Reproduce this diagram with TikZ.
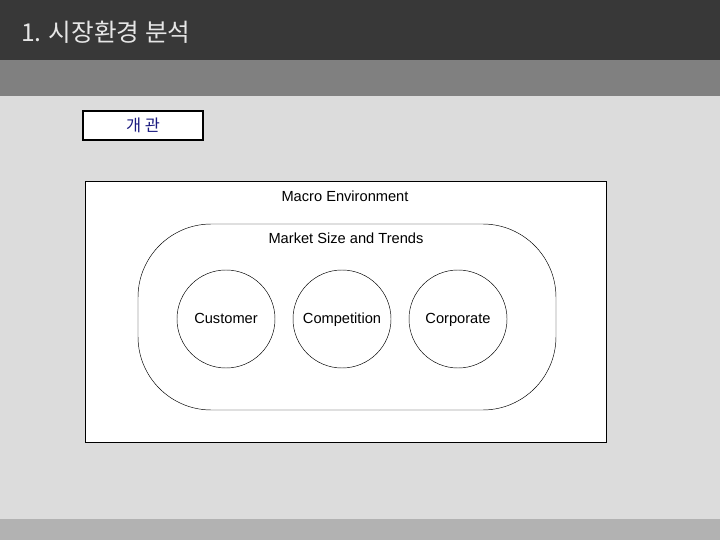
\documentclass[tikz,border=0pt]{standalone}
\usepackage{fontspec}
\setmainfont{Liberation Sans}
\newfontfamily\cjk{Noto Sans CJK KR}
\usetikzlibrary{arrows}
\definecolor{topbar}{HTML}{383838}
\definecolor{midbar}{HTML}{808080}
\definecolor{bglight}{HTML}{DCDCDC}
\definecolor{botbar}{HTML}{B2B2B2}
\definecolor{titlefg}{HTML}{E6E6E6}
\definecolor{tabfg}{HTML}{1A1A80}

\begin{document}
\begin{tikzpicture}[x=0.03cm,y=-0.03cm,thin,node distance=3.48cm,
                    main node/.style={circle,draw,minimum size=2.94cm,inner sep=0pt,
                                      text height=9pt,text depth=2pt},
                    every node/.style={font=\fontsize{12.5}{15}\selectfont}]
  \useasboundingbox (0,0) rectangle (720,540);
  \fill[bglight] (0,0) rectangle (720,540);
  \fill[topbar] (0,0) rectangle (720,60);
  \fill[midbar] (0,60) rectangle (720,96);
  \fill[botbar] (0,519) rectangle (720,540);
  \node[anchor=west,text=titlefg,font=\cjk\fontsize{21}{25}\selectfont] (title) at (17,32) {1. 시장환경 분석};
  \node[draw,line width=1.4pt,fill=white,minimum width=3.6cm,minimum height=0.87cm,
        text=tabfg,font=\cjk\fontsize{14}{16}\selectfont] (tab) at (143,125.5) {개 관};
%  outer box and the market loop
  \draw [thin,fill=white] (85,181) rectangle (606,442);
  \draw [thin,rounded corners=2.2cm] (138,224) rectangle (556,410);
  \node (macro) at (345,196) {Macro Environment};
  \node (market) at (346,238) {Market Size and Trends};
  \node[main node] (1) at (226,319) {Customer};
  \node[main node] (2) [right of=1] {Competition};
  \node[main node] (3) [right of=2] {Corporate};
\end{tikzpicture}
\end{document}
